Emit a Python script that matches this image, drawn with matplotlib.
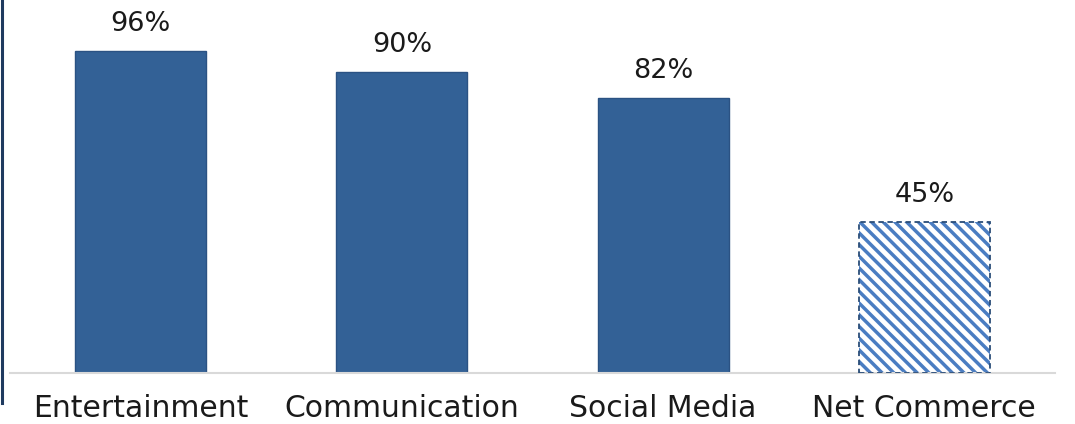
import numpy as np
import matplotlib
matplotlib.use("Agg")
import matplotlib.pyplot as plt
from matplotlib.lines import Line2D

categories = ["Entertainment", "Communication", "Social Media", "Net Commerce"]
shares = [96, 90, 82, 45]
projected = [False, False, False, True]

W, H, DPI = 1075, 424, 100
fig = plt.figure(figsize=(W / DPI, H / DPI), dpi=DPI)
plt.rcParams["font.family"] = ["DejaVu Sans"]

ax_left, ax_right, ax_bottom = 10 / W, 1055 / W, (H - 373) / H
ax = fig.add_axes([ax_left, ax_bottom, ax_right - ax_left, 1 - ax_bottom])

solid = "#336196"
solid_edge = "#2b5283"
stripe = "#4a7dc2"
dash_edge = "#2a4d78"

ax.set_xlim(-0.5, len(categories) - 0.5)
ax.set_ylim(0, 373 / 3.35)


def add_stripes(patch, spacing_px=11.7, lw=2.5):
    """Fill a bar with 45-degree diagonal stripes clipped to its outline."""
    (x0, y0), (x1, y1) = ax.transData.transform(
        [(patch.get_x(), patch.get_y()),
         (patch.get_x() + patch.get_width(), patch.get_y() + patch.get_height())])
    inv = ax.transData.inverted()
    # lines of the form y = c - x in pixel space
    for c in np.arange(x0 + y0, x1 + y1 + spacing_px, spacing_px):
        px = np.array([x0 - 5, x1 + 5])
        py = c - px
        pts = inv.transform(np.column_stack([px, py]))
        ln, = ax.plot(pts[:, 0], pts[:, 1], color=stripe, linewidth=lw,
                      solid_capstyle="butt", zorder=2)
        ln.set_clip_path(patch)


x = list(range(len(categories)))
for xi, val, proj in zip(x, shares, projected):
    if proj:
        bg = ax.bar(xi, val, width=0.502, color="white", linewidth=0, zorder=1)[0]
        add_stripes(bg)
        ax.bar(xi, val, width=0.502, fill=False, edgecolor=dash_edge,
               linewidth=1.3, linestyle=(0, (3, 2)), zorder=3)
    else:
        ax.bar(xi, val, width=0.502, color=solid, edgecolor=solid_edge,
               linewidth=1.0, zorder=2)
    ax.annotate(f"{val}%", xy=(xi, val), xytext=(0, 20), textcoords="offset pixels",
                ha="center", va="baseline", fontsize=19.5, color="#1a1a1a")

ax.set_xlim(-0.5, len(categories) - 0.5)
ax.set_ylim(0, 373 / 3.35)
ax.set_xticks(x)
ax.set_xticklabels(categories, fontsize=21.5, color="#1a1a1a")
ax.tick_params(axis="x", length=0, pad=15)
ax.set_yticks([])
for side in ("top", "right", "left"):
    ax.spines[side].set_visible(False)
ax.spines["bottom"].set_color("#d9d9d9")
ax.spines["bottom"].set_linewidth(1.5)

# dark rule along the left edge of the figure
fig.add_artist(Line2D([2 / W, 2 / W], [1, (H - 403) / H], transform=fig.transFigure,
                      color="#1f3a5f", linewidth=2.2))

fig.savefig("out.png", dpi=DPI)
